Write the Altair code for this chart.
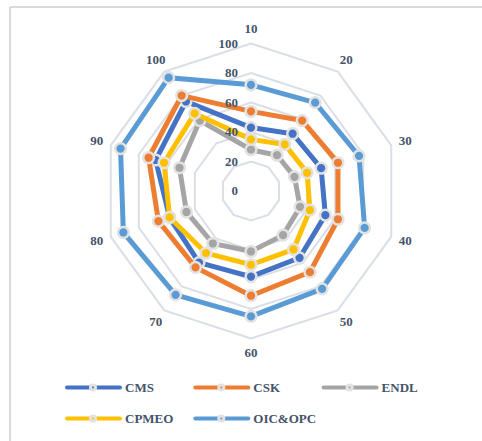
import altair as alt
import pandas as pd

# Radar chart: five series over ten categories, radial scale 0-100
categories = ["10", "20", "30", "40", "50", "60", "70", "80", "90", "100"]
series_names = ["CMS", "CSK", "ENDL", "CPMEO", "OIC&OPC"]
cms = [43, 48, 50, 53, 56, 58, 60, 58, 68, 75]
csk = [54, 59, 62, 62, 68, 71, 64, 66, 73, 80]
endl = [28, 30, 31, 35, 37, 41, 44, 46, 51, 59]
cpmeo = [35, 39, 40, 42, 49, 50, 52, 58, 62, 65]
oic_opc = [72, 74, 77, 81, 82, 85, 87, 91, 93, 95]
series_colors = ["#4472C4", "#ED7D31", "#A5A5A5", "#FFC000", "#5B9BD5"]
ring_levels = [20, 40, 60, 80, 100]
tick_values = [0, 20, 40, 60, 80, 100]

W, H = 482, 441
CX, CY, UNIT = 251, 191, 1.475  # centre in pixels and pixels per value unit
X_DOM = [-CX / UNIT, (W - CX) / UNIT]
Y_DOM = [-(H - CY) / UNIT, CY / UNIT]
N = len(categories)

FONT = "Liberation Serif"
TEXT_COLOR = "#44546A"
GRID_COLOR = "#D9DEE7"

all_values = [cms, csk, endl, cpmeo, oic_opc]
series_df = pd.DataFrame(
    [{"series": s, "k": k, "value": v}
     for s, vals in zip(series_names, all_values)
     for k, v in enumerate(vals)]
)
ring_df = pd.DataFrame([{"level": lv, "k": k, "value": lv} for lv in ring_levels for k in range(N)])
tick_df = pd.DataFrame({"value": tick_values, "label": [str(t) for t in tick_values]})
cat_df = pd.DataFrame({"k": list(range(N)), "label": categories, "value": [110] * N})
legend_df = pd.DataFrame({"series": series_names, "i": list(range(len(series_names)))})


def polar(chart):
    return chart.transform_calculate(
        ang=f"datum.k * 2 * PI / {N}"
    ).transform_calculate(
        px="datum.value * sin(datum.ang)", py="datum.value * cos(datum.ang)"
    )


xs = alt.Scale(domain=X_DOM, nice=False, zero=False)
ys = alt.Scale(domain=Y_DOM, nice=False, zero=False)


def xy():
    return dict(
        x=alt.X("px:Q", scale=xs, axis=None),
        y=alt.Y("py:Q", scale=ys, axis=None),
    )


grid = polar(alt.Chart(ring_df)).mark_line(
    interpolate="linear-closed", color=GRID_COLOR, strokeWidth=2
).encode(detail="level:N", order="k:Q", **xy())

layers = [grid]
for name, col in zip(series_names, series_colors):
    base = polar(alt.Chart(series_df).transform_filter(alt.datum.series == name))
    line = base.mark_line(interpolate="linear-closed", color=col, strokeWidth=5).encode(
        order="k:Q", **xy()
    )
    pts = base.mark_point(
        shape="circle", filled=True, fill=col, stroke="#E2E2E2", strokeWidth=2.5,
        size=115, opacity=1
    ).encode(**xy())
    layers += [line, pts]

ticks = alt.Chart(tick_df).transform_calculate(px="0", py="datum.value").mark_text(
    font=FONT, fontWeight="bold", fontSize=13, color=TEXT_COLOR,
    align="right", baseline="middle", dx=-13
).encode(text="label:N", **xy())

cat_labels = polar(alt.Chart(cat_df)).mark_text(
    font=FONT, fontWeight="bold", fontSize=13, color=TEXT_COLOR,
    align="center", baseline="middle"
).encode(text="label:N", **xy())

# Legend drawn in pixel space: three items per row
leg = alt.Chart(legend_df).transform_calculate(
    col="datum.i % 3", row="floor(datum.i / 3)"
).transform_calculate(
    x0="67 + datum.col * 128.3", x1="67 + datum.col * 128.3 + 53",
    xm="67 + datum.col * 128.3 + 26", xt="67 + datum.col * 128.3 + 58",
    ly="387.5 + datum.row * 31"
)
leg_color = alt.Color("series:N", scale=alt.Scale(domain=series_names, range=series_colors), legend=None)
leg_line = leg.mark_rule(strokeWidth=4, strokeCap="round").encode(
    x=alt.X("x0:Q", scale=None, axis=None), x2="x1:Q",
    y=alt.Y("ly:Q", scale=None, axis=None), color=leg_color
)
leg_pt = leg.mark_point(shape="circle", filled=True, size=26, stroke="#E2E2E2",
                        strokeWidth=3, opacity=1).encode(
    x=alt.X("xm:Q", scale=None, axis=None),
    y=alt.Y("ly:Q", scale=None, axis=None), fill=leg_color
)
leg_text = leg.mark_text(font=FONT, fontWeight="bold", fontSize=13, color=TEXT_COLOR,
                         align="left", baseline="middle").encode(
    x=alt.X("xt:Q", scale=None, axis=None),
    y=alt.Y("ly:Q", scale=None, axis=None), text="series:N"
)

frame_top = alt.Chart(legend_df).mark_rule(color="#D9D9D9", strokeWidth=1.5).encode(
    x=alt.value(10), x2=alt.value(W), y=alt.value(7)
)
frame_left = alt.Chart(legend_df).mark_rule(color="#D9D9D9", strokeWidth=1.5).encode(
    x=alt.value(10), y=alt.value(7), y2=alt.value(H)
)

chart = alt.layer(
    frame_top, frame_left, *layers, ticks, cat_labels, leg_line, leg_pt, leg_text
).resolve_scale(
    x="independent", y="independent", color="independent", fill="independent"
).properties(
    width=W, height=H, padding=0, autosize=alt.AutoSizeParams(type="none"),
    background="white"
).configure_view(stroke=None)

chart.save("out.html", embed_options={"renderer": "svg", "actions": False})
